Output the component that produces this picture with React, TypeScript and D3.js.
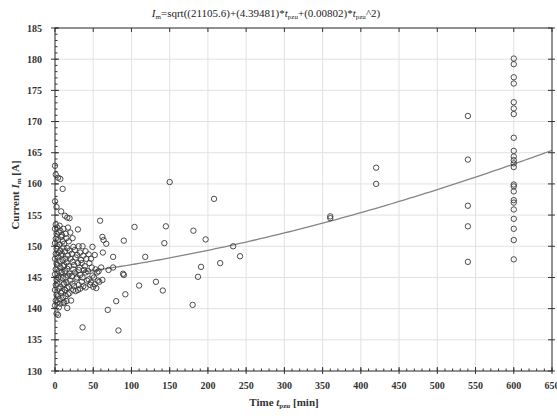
import React from "react";
import * as d3 from "d3";

// ---- data ----
const xTicks = [0, 50, 100, 150, 200, 250, 300, 350, 400, 450, 500, 550, 600, 650];
const yTicks = [130, 135, 140, 145, 150, 155, 160, 165, 170, 175, 180, 185];

// dense cluster near t = 0..60
const clusterTimes = [
  0, 1, 0, 2, 1, 0, 2, 1, 0, 2, 1, 0, 2, 1, 0, 2, 1, 0, 2, 1, 0, 2,
  4, 3, 5, 4, 3, 5, 4, 3, 5, 4, 3, 5, 4, 3, 5, 4,
  7, 8, 6, 7, 8, 6, 7, 8, 6, 7, 8, 6, 7, 8, 6, 7,
  10, 11, 9, 10, 11, 9, 10, 11, 9, 10, 11, 9, 10, 11,
  13, 14, 12, 13, 14, 12, 13, 14, 12, 13, 14, 12,
  16, 17, 15, 16, 17, 15, 16, 17, 15, 16, 17, 15, 16,
  19, 20, 18, 19, 20, 18, 19, 20, 18, 19, 21,
  23, 24, 22, 23, 24, 22, 23, 24,
  26, 27, 25, 26, 28, 25, 27,
  30, 31, 29, 30, 31, 29, 31, 30,
  33, 34, 32, 33, 35, 33,
  36, 37, 35, 38, 36, 37, 36,
  40, 41, 39, 40, 42, 40,
  44, 45, 43, 44, 46,
  49, 47, 48, 49, 47, 50,
  52, 53, 51, 52,
  55, 56, 54,
  57, 58,
];
const clusterCurrents = [
  162.9, 161.5, 157.2, 156.3, 153.5, 152.8, 152.0, 151.2, 150.5, 149.6, 148.8, 148.0, 147.2, 146.3, 145.5, 144.6, 143.8, 143.0, 142.2, 141.3, 140.5, 139.2,
  161.0, 153.0, 152.2, 151.0, 150.0, 149.0, 148.2, 147.0, 146.0, 145.0, 144.0, 143.2, 142.0, 141.0, 140.2, 139.0,
  160.8, 155.6, 153.3, 152.5, 151.5, 150.3, 149.3, 148.5, 147.6, 146.6, 145.8, 144.8, 143.5, 142.5, 141.5, 140.8,
  159.2, 152.8, 151.8, 150.8, 149.8, 148.8, 147.8, 146.8, 145.9, 144.9, 143.9, 142.8, 141.8, 140.9,
  154.9, 152.0, 150.4, 149.2, 148.0, 147.0, 146.0, 145.0, 144.0, 143.0, 142.0, 141.0,
  154.6, 153.0, 151.3, 149.7, 148.5, 147.4, 146.4, 145.3, 144.2, 143.3, 142.3, 141.2, 140.1,
  154.5, 152.2, 150.8, 149.3, 148.0, 146.8, 145.6, 144.5, 143.5, 142.5, 141.3,
  151.3, 149.9, 148.8, 147.5, 146.3, 145.2, 144.0, 143.0,
  149.4, 148.2, 147.0, 145.8, 144.8, 143.6, 142.8,
  152.7, 150.0, 148.6, 147.3, 146.2, 145.0, 143.8, 143.0,
  149.0, 147.8, 146.6, 145.4, 144.3, 143.2,
  150.0, 148.5, 147.3, 146.2, 145.0, 143.6, 137.0,
  149.2, 148.0, 146.8, 145.8, 144.5, 143.4,
  148.7, 147.3, 146.0, 144.7, 143.8,
  149.9, 148.0, 146.6, 145.3, 144.2, 143.5,
  148.6, 146.3, 145.0, 143.9,
  145.8, 144.5, 143.3,
  146.0, 144.3,
];

// scattered points beyond the cluster
const scatterTimes = [
  59, 62, 63.5, 67, 62.6, 60.4, 70, 76, 62, 69, 80, 83, 76, 90, 89, 90, 92, 104, 118, 110, 132, 141,
  143, 145, 150, 181, 197, 180, 191, 187, 208, 216, 233, 242,
  360, 360, 420, 420,
  540, 540, 540, 540, 540,
];
const scatterCurrents = [
  154.1, 151.5, 151.0, 150.4, 149.0, 146.6, 146.2, 146.6, 144.6, 139.8, 141.2, 136.5, 148.3, 150.9, 145.6, 145.4, 142.3, 153.1, 148.3, 143.7, 144.3, 142.9,
  150.5, 153.2, 160.3, 152.5, 151.1, 140.6, 146.7, 145.1, 157.6, 147.3, 150.0, 148.4,
  154.8, 154.5, 162.6, 160.0,
  170.9, 163.9, 156.5, 153.2, 147.5,
];

// t = 600 column
const lastTime = 600;
const lastCurrents = [
  180.1, 179.2, 177.1, 176.1, 173.1, 172.1, 171.2, 167.4, 165.3, 164.4, 163.8, 163.3, 162.7,
  159.9, 159.6, 158.8, 157.4, 157.0, 155.9, 154.4, 152.8, 151.0, 147.9,
];

// fit coefficients
const fitA = 21105.6;
const fitB = 4.39481;
const fitC = 0.00802;

export default function App() {
  const W = 557;
  const H = 416;
  const left = 55, right = 552, top = 28, bottom = 371;
  const x = d3.scaleLinear().domain([0, 650]).range([left, right]);
  const y = d3.scaleLinear().domain([130, 185]).range([bottom, top]);

  const points: [number, number][] = [];
  clusterTimes.forEach((t, i) => points.push([t, clusterCurrents[i]]));
  scatterTimes.forEach((t, i) => points.push([t, scatterCurrents[i]]));
  lastCurrents.forEach((v) => points.push([lastTime, v]));

  const fitT = d3.range(0, 651, 5);
  const line = d3
    .line<number>()
    .x((t) => x(t))
    .y((t) => y(Math.sqrt(fitA + fitB * t + fitC * t * t)));

  const xMinor = d3.range(0, 651, 10);
  const yMinor = d3.range(130, 185.1, 1);
  const font = "'Liberation Serif', 'DejaVu Serif', serif";

  return (
    <svg width={W} height={H} style={{ position: "absolute", left: 0, top: 0, background: "#fff" }}>
      <rect x={0} y={0} width={W} height={H} fill="#fff" />
      {xTicks.map((t) => (
        <line key={"gx" + t} x1={x(t)} x2={x(t)} y1={top} y2={bottom} stroke="#e2e2e2" strokeWidth={1} />
      ))}
      {yTicks.map((v) => (
        <line key={"gy" + v} x1={left} x2={right} y1={y(v)} y2={y(v)} stroke="#e2e2e2" strokeWidth={1} />
      ))}
      <path d={line(fitT) || ""} fill="none" stroke="#858585" strokeWidth={1.3} />
      {points.map((p, i) => (
        <circle key={i} cx={x(p[0])} cy={y(p[1])} r={2.7} fill="none" stroke="#3a3a3a" strokeWidth={0.9} />
      ))}
      <rect x={left} y={top} width={right - left} height={bottom - top} fill="none" stroke="#333" strokeWidth={1} />
      {xMinor.map((t) => (
        <line key={"mx" + t} x1={x(t)} x2={x(t)} y1={bottom} y2={bottom - 2.5} stroke="#333" />
      ))}
      {yMinor.map((v) => (
        <line key={"my" + v} x1={left} x2={left + 2.5} y1={y(v)} y2={y(v)} stroke="#333" />
      ))}
      {xTicks.map((t) => (
        <g key={"tx" + t}>
          <line x1={x(t)} x2={x(t)} y1={bottom - 4} y2={bottom + 3} stroke="#333" />
          <line x1={x(t)} x2={x(t)} y1={top} y2={top + 4} stroke="#333" />
          <text x={x(t)} y={389} textAnchor="middle" fontFamily={font} fontWeight="bold" fontSize={10} fill="#333">
            {t}
          </text>
        </g>
      ))}
      {yTicks.map((v) => (
        <g key={"ty" + v}>
          <line x1={left - 4} x2={left + 4} y1={y(v)} y2={y(v)} stroke="#333" />
          <line x1={right - 4} x2={right + 3} y1={y(v)} y2={y(v)} stroke="#333" />
          <text x={42} y={y(v) + 3.5} textAnchor="end" fontFamily={font} fontWeight="bold" fontSize={10} fill="#333">
            {v}
          </text>
        </g>
      ))}
      <text x={266} y={17} textAnchor="middle" fontFamily={font} fontSize={11} fill="#222">
        <tspan fontStyle="italic">I</tspan>
        <tspan fontSize={7} dy={2}>m</tspan>
        <tspan dy={-2}>=sqrt((21105.6)+(4.39481)*</tspan>
        <tspan fontStyle="italic">t</tspan>
        <tspan fontSize={7} dy={2}>pzu</tspan>
        <tspan dy={-2}>+(0.00802)*</tspan>
        <tspan fontStyle="italic">t</tspan>
        <tspan fontSize={7} dy={2}>pzu</tspan>
        <tspan dy={-2}>^2)</tspan>
      </text>
      <text x={284} y={406} textAnchor="middle" fontFamily={font} fontWeight="bold" fontSize={11} fill="#333">
        <tspan>Time </tspan>
        <tspan fontStyle="italic">t</tspan>
        <tspan fontSize={7} dy={2}>pzu</tspan>
        <tspan dy={-2}> [min]</tspan>
      </text>
      <text transform="translate(19,195) rotate(-90)" textAnchor="middle" fontFamily={font} fontWeight="bold" fontSize={11} fill="#333">
        <tspan>Current </tspan>
        <tspan fontStyle="italic">I</tspan>
        <tspan fontSize={7} dy={2}>m</tspan>
        <tspan dy={-2}> [A]</tspan>
      </text>
    </svg>
  );
}
